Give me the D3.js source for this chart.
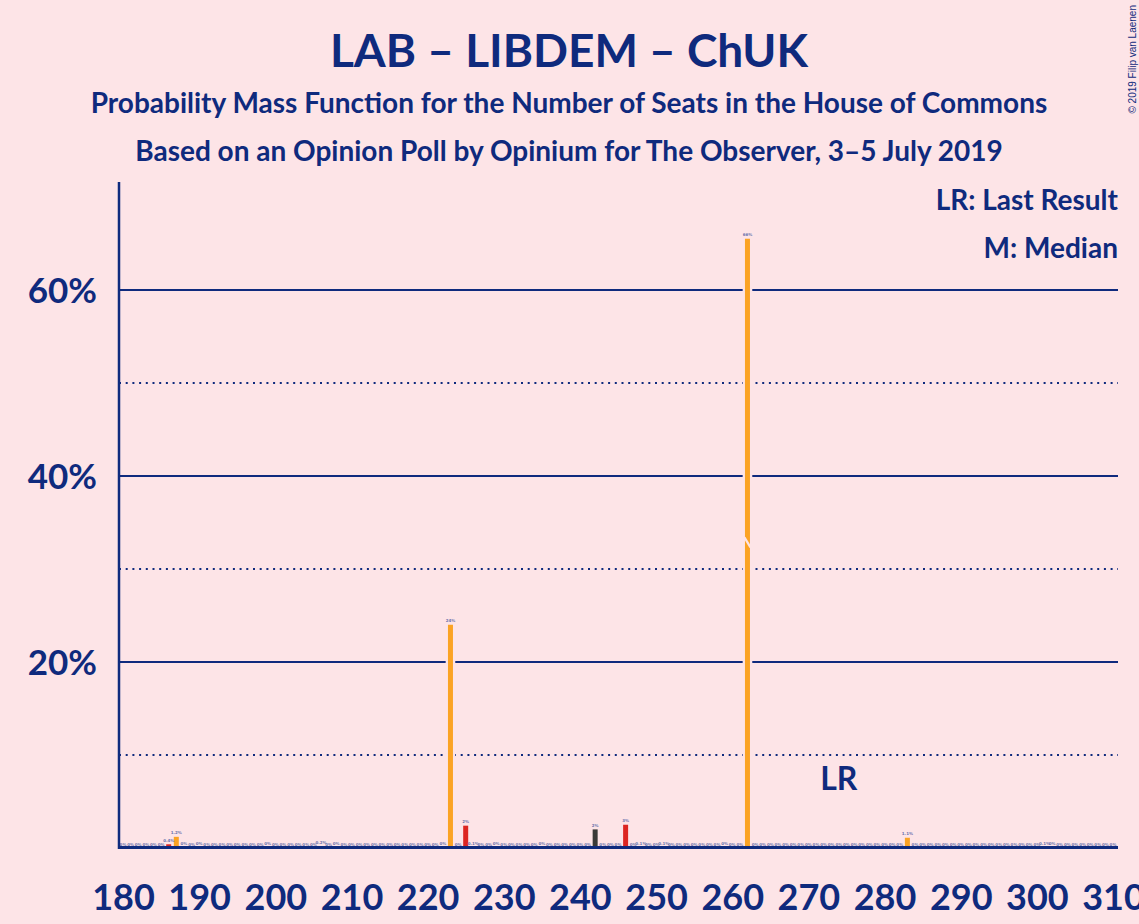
<!DOCTYPE html>
<html>
<head>
<meta charset="utf-8">
<script src="https://cdn.jsdelivr.net/npm/d3@7"></script>
<style>
  html, body { margin: 0; padding: 0; background: #fde4e7; }
  svg { display: block; font-family: Lato, "Open Sans", sans-serif; }
</style>
</head>
<body>
<svg id="chart" width="1139" height="924"></svg>
<script>
const TITLE = "LAB – LIBDEM – ChUK";
const SUBTITLE_1 = "Probability Mass Function for the Number of Seats in the House of Commons";
const SUBTITLE_2 = "Based on an Opinion Poll by Opinium for The Observer, 3–5 July 2019";

const FIRST_SEAT = 180;
const LAST_SEAT = 310;
const MEDIAN_SEAT = 262;
const LAST_RESULT_SEAT = 274;

// probability (%) per seat, starting at 180
const probabilities = [
  0, 0, 0, 0, 0, 0, 0.4, 1.2, 0.05, 0,        // 180-189
  0.05, 0, 0, 0, 0, 0, 0, 0, 0, 0.05,          // 190-199
  0, 0, 0, 0, 0, 0, 0.2, 0, 0.05, 0,           // 200-209
  0, 0, 0, 0, 0, 0, 0, 0, 0, 0,                // 210-219
  0, 0, 0.05, 24, 0, 2.4, 0.1, 0, 0, 0.05,     // 220-229
  0, 0, 0, 0, 0, 0.05, 0, 0, 0, 0,             // 230-239
  0, 0, 2.0, 0, 0, 0, 2.5, 0, 0.1, 0,          // 240-249
  0, 0.1, 0, 0, 0, 0, 0, 0, 0, 0.05,           // 250-259
  0, 0, 65.5, 0, 0, 0, 0, 0, 0, 0,             // 260-269
  0, 0, 0, 0, 0, 0, 0, 0, 0, 0,                // 270-279
  0, 0, 0, 1.1, 0, 0, 0, 0, 0, 0,              // 280-289
  0, 0, 0, 0, 0, 0, 0, 0, 0, 0,                // 290-299
  0, 0.1, 0.05, 0, 0, 0, 0, 0, 0, 0,           // 300-309
  0                                            // 310
];
const redSeats = [186, 225, 246];
const darkSeats = [206, 242];

const xTicks = [180, 190, 200, 210, 220, 230, 240, 250, 260, 270, 280, 290, 300, 310];
const solidGrid = [20, 40, 60];
const dottedGrid = [10, 30, 50];

const NAVY = "#0f2a7d";
const BG = "#fde4e7";
const ORANGE = "#fba324";
const RED = "#dc2622";
const DARK = "#3a3a38";

const data = probabilities.map((p, i) => ({ seat: FIRST_SEAT + i, p }));

const svg = d3.select("#chart");
svg.append("rect").attr("width", 1139).attr("height", 924).attr("fill", BG);

const xScale = d3.scaleLinear().domain([FIRST_SEAT, LAST_SEAT]).range([123, 1113]);
const yScale = d3.scaleLinear().domain([0, 71.6]).range([848, 182]);

const barColor = (s) => redSeats.includes(s) ? RED : darkSeats.includes(s) ? DARK : ORANGE;
const fmt = (v) => v < 0.1 ? "0%" : v < 2 ? v.toFixed(1) + "%" : Math.round(v) + "%";

// titles
svg.append("text").attr("x", 569).attr("y", 67).attr("text-anchor", "middle")
  .attr("fill", NAVY).attr("font-size", 46).attr("font-weight", 700).text(TITLE);
svg.append("text").attr("x", 569).attr("y", 113).attr("text-anchor", "middle")
  .attr("fill", NAVY).attr("font-size", 28).attr("font-weight", 700).text(SUBTITLE_1);
svg.append("text").attr("x", 569).attr("y", 161).attr("text-anchor", "middle")
  .attr("fill", NAVY).attr("font-size", 28).attr("font-weight", 700).text(SUBTITLE_2);

// copyright
svg.append("text")
  .attr("transform", "translate(1136,5) rotate(-90)")
  .attr("text-anchor", "end")
  .attr("font-family", "'Liberation Sans', Arial, sans-serif")
  .attr("font-size", 10).attr("fill", NAVY)
  .text("© 2019 Filip van Laenen");

// grid
svg.append("g").selectAll("line").data(dottedGrid).join("line")
  .attr("x1", 119).attr("x2", 1118)
  .attr("y1", (d) => yScale(d)).attr("y2", (d) => yScale(d))
  .attr("stroke", NAVY).attr("stroke-width", 2).attr("stroke-dasharray", "2,4.7");
svg.append("g").selectAll("line").data(solidGrid).join("line")
  .attr("x1", 119).attr("x2", 1118)
  .attr("y1", (d) => yScale(d)).attr("y2", (d) => yScale(d))
  .attr("stroke", NAVY).attr("stroke-width", 2);

// y tick labels
const yAxis = d3.axisLeft(yScale).tickValues(solidGrid).tickSize(0).tickPadding(22)
  .tickFormat((d) => d + "%");
svg.append("g").attr("transform", "translate(119,0)").call(yAxis)
  .call((g) => g.select(".domain").remove())
  .selectAll("text")
  .attr("fill", NAVY).attr("font-size", 35).attr("font-weight", 700)
  .attr("font-family", "Lato, sans-serif").attr("dy", "0.36em");

// x tick labels
const xAxis = d3.axisBottom(xScale).tickValues(xTicks).tickSize(0).tickPadding(36)
  .tickFormat(d3.format("d"));
svg.append("g").attr("transform", "translate(0,848)").call(xAxis)
  .call((g) => g.select(".domain").remove())
  .selectAll("text")
  .attr("fill", NAVY).attr("font-size", 36).attr("font-weight", 700)
  .attr("font-family", "Lato, sans-serif");

// bars: halo first, then bars
const BAR_W = 5;
const bars = svg.append("g");
bars.selectAll("rect.halo").data(data.filter((d) => d.p > 0)).join("rect")
  .attr("class", "halo")
  .attr("x", (d) => xScale(d.seat) - BAR_W / 2 - 2.3)
  .attr("width", BAR_W + 4.6)
  .attr("y", (d) => yScale(d.p) - 2)
  .attr("height", (d) => 848 - yScale(d.p) + 2)
  .attr("fill", BG);
bars.selectAll("rect.bar").data(data.filter((d) => d.p > 0)).join("rect")
  .attr("class", "bar")
  .attr("x", (d) => xScale(d.seat) - BAR_W / 2)
  .attr("width", BAR_W)
  .attr("y", (d) => yScale(d.p))
  .attr("height", (d) => 848 - yScale(d.p))
  .attr("fill", (d) => barColor(d.seat));

// median marker
const med = data.find((d) => d.seat === MEDIAN_SEAT);
const mx = xScale(MEDIAN_SEAT);
const my = yScale(med.p / 2);
svg.append("line")
  .attr("x1", mx - 3).attr("y1", my - 6).attr("x2", mx + 3).attr("y2", my + 4)
  .attr("stroke", BG).attr("stroke-width", 2.2);

// bar value labels
svg.append("g").selectAll("text").data(data).join("text")
  .attr("x", (d) => xScale(d.seat))
  .attr("y", (d) => yScale(d.p) - 2.5)
  .attr("text-anchor", "middle")
  .attr("font-size", 4).attr("font-weight", 700)
  .attr("font-family", "'DejaVu Sans', sans-serif")
  .attr("fill", "#6b73ad")
  .text((d) => fmt(d.p));

// axes lines
svg.append("line").attr("x1", 119).attr("x2", 119).attr("y1", 182).attr("y2", 849)
  .attr("stroke", NAVY).attr("stroke-width", 2.5);
svg.append("line").attr("x1", 118).attr("x2", 1118).attr("y1", 847.5).attr("y2", 847.5)
  .attr("stroke", NAVY).attr("stroke-width", 3);

// last result
svg.append("text").attr("x", xScale(LAST_RESULT_SEAT)).attr("y", 790)
  .attr("text-anchor", "middle").attr("fill", NAVY)
  .attr("font-size", 32).attr("font-weight", 700).text("LR");

// legend
svg.append("text").attr("x", 1118).attr("y", 210).attr("text-anchor", "end")
  .attr("fill", NAVY).attr("font-size", 28).attr("font-weight", 700).text("LR: Last Result");
svg.append("text").attr("x", 1118).attr("y", 258).attr("text-anchor", "end")
  .attr("fill", NAVY).attr("font-size", 28).attr("font-weight", 700).text("M: Median");
</script>
</body>
</html>
